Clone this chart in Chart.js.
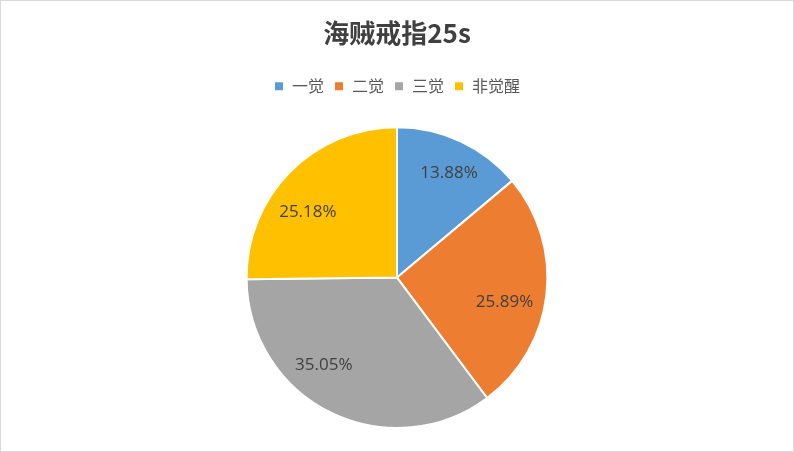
<!DOCTYPE html>
<html>
<head>
<meta charset="utf-8">
<script src="https://cdn.jsdelivr.net/npm/chart.js@4"></script>
<style>
  html, body { margin: 0; padding: 0; background: #fff; }
  #wrap { position: relative; width: 792px; height: 450px; border: 1px solid #d9d9d9; }
</style>
</head>
<body>
<div id="wrap"><canvas id="chart" width="792" height="450"></canvas></div>
<script>
const labels = ['一觉', '二觉', '三觉', '非觉醒'];
const values = [13.88, 25.89, 35.05, 25.18];
const colors = ['#5B9BD5', '#ED7D31', '#A5A5A5', '#FFC000'];

// percent labels inside each slice (Excel "best fit" places them a bit off the centroid)
const sliceLabels = {
  id: 'sliceLabels',
  afterDatasetsDraw(chart, args, opts) {
    const ctx = chart.ctx;
    const meta = chart.getDatasetMeta(0);
    const nudge = opts.nudge || [];
    ctx.save();
    ctx.font = '17px "Open Sans", "Noto Sans", sans-serif';
    ctx.fillStyle = '#404040';
    ctx.textAlign = 'center';
    ctx.textBaseline = 'middle';
    meta.data.forEach((arc, i) => {
      const mid = (arc.startAngle + arc.endAngle) / 2;
      const r = arc.outerRadius * 0.74;
      const n = nudge[i] || [0, 0];
      const x = arc.x + Math.cos(mid) * r + n[0];
      const y = arc.y + Math.sin(mid) * r + n[1];
      ctx.fillText(values[i].toFixed(2) + '%', x, y);
    });
    ctx.restore();
  }
};

// extra gap under the legend
const legendGap = {
  id: 'legendGap',
  beforeInit(chart) {
    const fit = chart.legend.fit;
    chart.legend.fit = function () {
      fit.call(this);
      this.height += 22;
    };
  }
};

new Chart(document.getElementById('chart'), {
  type: 'pie',
  data: {
    labels: labels,
    datasets: [{
      data: values,
      backgroundColor: colors,
      borderColor: '#ffffff',
      borderWidth: 2
    }]
  },
  options: {
    responsive: false,
    animation: false,
    layout: { padding: { top: 13, bottom: 22 } },
    plugins: {
      title: {
        display: true,
        text: '海贼戒指25s',
        color: '#404040',
        font: { family: '"Noto Sans CJK SC", sans-serif', size: 26, weight: 'bold' },
        padding: { top: 4, bottom: 19 }
      },
      legend: {
        position: 'top',
        labels: {
          color: '#595959',
          font: { family: '"Noto Sans CJK SC", sans-serif', size: 16 },
          boxWidth: 10,
          boxHeight: 10,
          padding: 10
        }
      },
      sliceLabels: { nudge: [[5, -4], [-3, 12], [-24, -12], [-10, 13]] },
      tooltip: { enabled: false }
    }
  },
  plugins: [sliceLabels, legendGap]
});
</script>
</body>
</html>
